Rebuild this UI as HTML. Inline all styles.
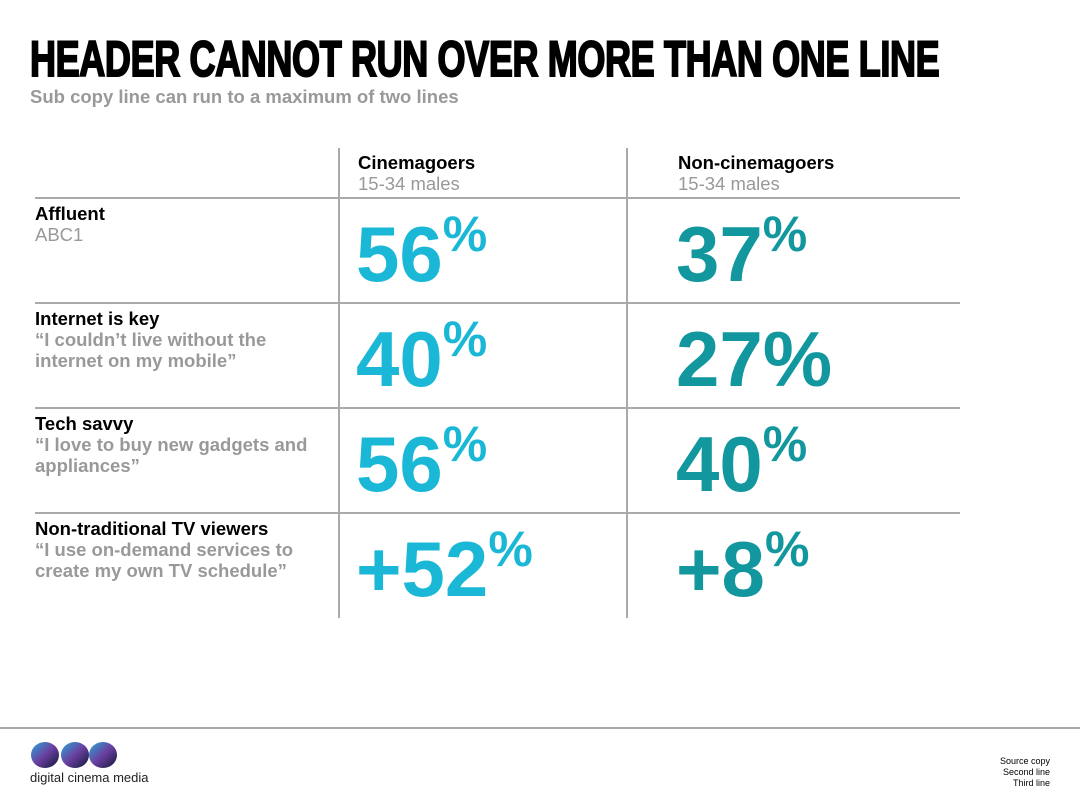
<!DOCTYPE html>
<html><head><meta charset="utf-8">
<style>
body{margin:0;width:1080px;height:810px;background:#fff;position:relative;overflow:hidden;font-family:"Liberation Sans",sans-serif}
.abs{position:absolute}
.title{left:30px;top:30px;font-size:50px;font-weight:bold;white-space:nowrap;transform-origin:0 0;transform:scaleX(0.72);letter-spacing:-0.5px;color:#000;-webkit-text-stroke:2px #000}
.sub{left:30px;top:86px;font-size:18.5px;font-weight:bold;color:#999}
.hl{height:2px;background:#aaa;left:35px;width:925px}
.vl{width:2px;background:#aaa;top:148px;height:470px}
.lab{left:35px;font-size:18.5px;line-height:21px;font-weight:bold;color:#000}
.lab span{color:#999;display:block}
.lab span.n{font-weight:normal}
.ch{font-size:18.5px;line-height:21px;font-weight:bold}
.ch span{display:block;font-weight:normal;color:#999}
.num{font-size:78px;font-weight:bold;line-height:1;white-space:nowrap;letter-spacing:0}
.num sup{font-size:50px;vertical-align:top;position:relative;top:-6px}
.c1{color:#1ab8d6}.c2{color:#12979f}
</style></head><body>
<div class="abs title">HEADER CANNOT RUN OVER MORE THAN ONE LINE</div>
<div class="abs sub">Sub copy line can run to a maximum of two lines</div>

<div class="abs vl" style="left:338px"></div>
<div class="abs vl" style="left:626px"></div>
<div class="abs hl" style="top:197px"></div>
<div class="abs hl" style="top:302px"></div>
<div class="abs hl" style="top:407px"></div>
<div class="abs hl" style="top:512px"></div>

<div class="abs ch" style="left:358px;top:152px">Cinemagoers<span>15-34 males</span></div>
<div class="abs ch" style="left:678px;top:152px">Non-cinemagoers<span>15-34 males</span></div>

<div class="abs lab" style="top:203px">Affluent<span class="n">ABC1</span></div>
<div class="abs lab" style="top:308px">Internet is key<span>“I couldn’t live without the<br>internet on my mobile”</span></div>
<div class="abs lab" style="top:413px">Tech savvy<span>“I love to buy new gadgets and<br>appliances”</span></div>
<div class="abs lab" style="top:518px">Non-traditional TV viewers<span>“I use on-demand services to<br>create my own TV schedule”</span></div>

<div class="abs num c1" style="left:356px;top:215px">56<sup>%</sup></div>
<div class="abs num c2" style="left:676px;top:215px">37<sup>%</sup></div>
<div class="abs num c1" style="left:356px;top:320px">40<sup>%</sup></div>
<div class="abs num c2" style="left:676px;top:320px">27%</div>
<div class="abs num c1" style="left:356px;top:425px">56<sup>%</sup></div>
<div class="abs num c2" style="left:676px;top:425px">40<sup>%</sup></div>
<div class="abs num c1" style="left:356px;top:530px">+52<sup>%</sup></div>
<div class="abs num c2" style="left:676px;top:530px">+8<sup>%</sup></div>

<div class="abs" style="left:0;top:727px;width:1080px;height:2px;background:#aaa"></div>
<svg class="abs" style="left:30px;top:741px" width="90" height="28">
<defs><linearGradient id="g" x1="0" y1="0" x2="1" y2="1"><stop offset="0" stop-color="#2aa8d8"/><stop offset="0.5" stop-color="#6a3fa0"/><stop offset="1" stop-color="#101838"/></linearGradient></defs>
<ellipse cx="15" cy="14" rx="14" ry="13" fill="url(#g)"/><ellipse cx="45" cy="14" rx="14" ry="13" fill="url(#g)"/><ellipse cx="73" cy="14" rx="14" ry="13" fill="url(#g)"/>
</svg>
<div class="abs" style="left:30px;top:770px;font-size:13px;color:#222">digital cinema media</div>
<div class="abs" style="right:30px;top:756px;font-size:9px;line-height:11px;text-align:right;color:#000">Source copy<br>Second line<br>Third line</div>
</body></html>
